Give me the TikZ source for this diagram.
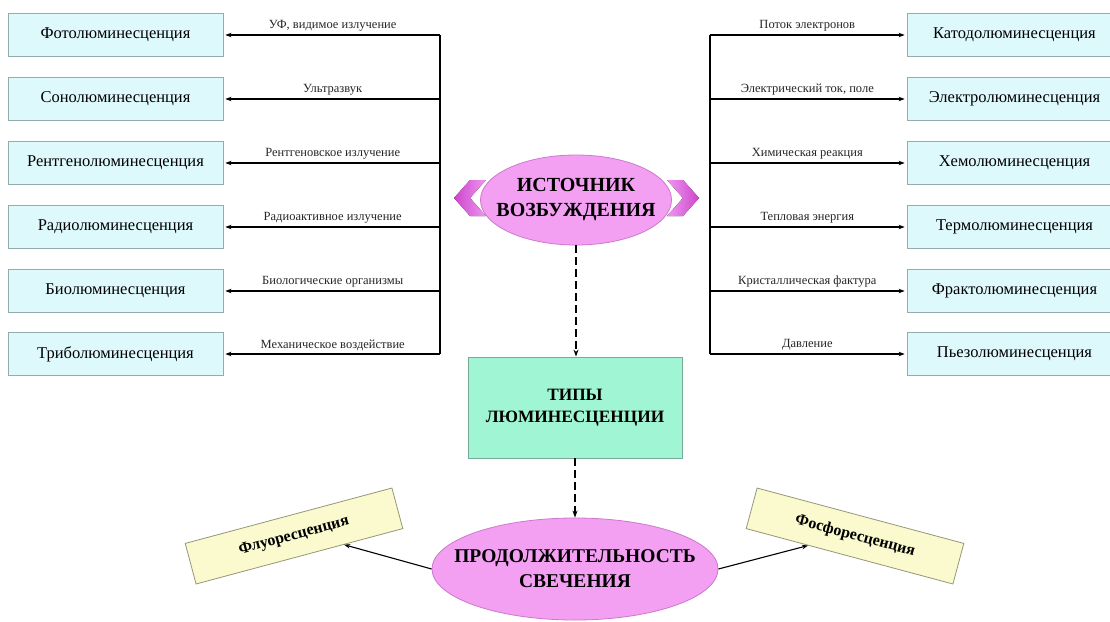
\documentclass[tikz,border=0pt]{standalone}
\usepackage{fontspec}
\setmainfont{Liberation Serif}
\usetikzlibrary{arrows.meta,shapes.geometric,calc}
\definecolor{cyanfill}{RGB}{222,249,252}
\definecolor{cyanline}{RGB}{150,172,172}
\definecolor{pinkfill}{RGB}{243,160,243}
\definecolor{pinkline}{RGB}{205,120,205}
\definecolor{mintfill}{RGB}{160,246,212}
\definecolor{mintline}{RGB}{120,170,150}
\definecolor{yelfill}{RGB}{250,250,206}
\definecolor{yelline}{RGB}{150,150,120}
\definecolor{chevdark}{RGB}{205,70,205}
\definecolor{chevlight}{RGB}{240,150,240}
\begin{document}
\begin{tikzpicture}[x=1pt,y=-1pt,
  lumbox/.style={draw=cyanline, fill=cyanfill, line width=0.8pt, minimum width=215pt, minimum height=43pt, inner sep=0pt, font=\fontsize{16.5}{18}\selectfont},
  srclabel/.style={font=\fontsize{12.5}{14}\selectfont, text=black!85, midway, above, inner sep=3pt},
  arr/.style={-{Stealth[length=6pt,width=4.5pt]}, line width=1.1pt},
  dasharr/.style={-{Stealth[length=7pt,width=5pt]}, line width=1.4pt, dash pattern=on 8pt off 4pt},
  bus/.style={line width=1.1pt},
  oval/.style={ellipse, draw=pinkline, fill=pinkfill, line width=0.8pt, inner sep=-12pt, align=center},
  tiltbox/.style={draw=yelline, fill=yelfill, line width=0.8pt, minimum width=214pt, minimum height=42pt, inner sep=0pt, font=\fontsize{16}{18}\selectfont\bfseries}
]
\useasboundingbox (0,0) rectangle (1110,621);
\clip (0,0) rectangle (1110,621);
\fill[white] (0,0) rectangle (1110,621);

% left boxes
\node[lumbox] (l1) at (115.5,35) {Фотолюминесценция};
\node[lumbox] (l2) at (115.5,99) {Сонолюминесценция};
\node[lumbox] (l3) at (115.5,163) {Рентгенолюминесценция};
\node[lumbox] (l4) at (115.5,227) {Радиолюминесценция};
\node[lumbox] (l5) at (115.5,291) {Биолюминесценция};
\node[lumbox] (l6) at (115.5,354) {Триболюминесценция};

% right boxes
\node[lumbox] (r1) at (1014.5,35) {Катодолюминесценция};
\node[lumbox] (r2) at (1014.5,99) {Электролюминесценция};
\node[lumbox] (r3) at (1014.5,163) {Хемолюминесценция};
\node[lumbox] (r4) at (1014.5,227) {Термолюминесценция};
\node[lumbox] (r5) at (1014.5,291) {Фрактолюминесценция};
\node[lumbox] (r6) at (1014.5,354) {Пьезолюминесценция};

% bus coordinates
\coordinate (bl1) at (440,35);
\coordinate (bl2) at (440,99);
\coordinate (bl3) at (440,163);
\coordinate (bl4) at (440,227);
\coordinate (bl5) at (440,291);
\coordinate (bl6) at (440,354);
\coordinate (br1) at (710,35);
\coordinate (br2) at (710,99);
\coordinate (br3) at (710,163);
\coordinate (br4) at (710,227);
\coordinate (br5) at (710,291);
\coordinate (br6) at (710,354);

\draw[bus] (bl1) -- (bl6);
\draw[bus] (br1) -- (br6);

\draw[arr] (bl1) -- node[srclabel] {УФ, видимое излучение} ($(l1.east)+(2,0)$);
\draw[arr] (bl2) -- node[srclabel] {Ультразвук} ($(l2.east)+(2,0)$);
\draw[arr] (bl3) -- node[srclabel] {Рентгеновское излучение} ($(l3.east)+(2,0)$);
\draw[arr] (bl4) -- node[srclabel] {Радиоактивное излучение} ($(l4.east)+(2,0)$);
\draw[arr] (bl5) -- node[srclabel] {Биологические организмы} ($(l5.east)+(2,0)$);
\draw[arr] (bl6) -- node[srclabel] {Механическое воздействие} ($(l6.east)+(2,0)$);

\draw[arr] (br1) -- node[srclabel] {Поток электронов} ($(r1.west)+(-2,0)$);
\draw[arr] (br2) -- node[srclabel] {Электрический ток, поле} ($(r2.west)+(-2,0)$);
\draw[arr] (br3) -- node[srclabel] {Химическая реакция} ($(r3.west)+(-2,0)$);
\draw[arr] (br4) -- node[srclabel] {Тепловая энергия} ($(r4.west)+(-2,0)$);
\draw[arr] (br5) -- node[srclabel] {Кристаллическая фактура} ($(r5.west)+(-2,0)$);
\draw[arr] (br6) -- node[srclabel] {Давление} ($(r6.west)+(-2,0)$);

% chevrons
\fill[left color=chevdark, right color=chevlight] (470,180) -- (486,180) -- (470,198) -- (486,216) -- (470,216) -- (454,198) -- cycle;
\fill[left color=chevlight, right color=chevdark] (683,180) -- (667,180) -- (683,198) -- (667,216) -- (683,216) -- (699,198) -- cycle;

% central nodes
\node[oval, minimum width=191pt, minimum height=90pt, font=\fontsize{20}{25}\selectfont\bfseries] (src) at (576,200) {ИСТОЧНИК\\ВОЗБУЖДЕНИЯ};
\node[draw=mintline, fill=mintfill, line width=0.8pt, minimum width=214pt, minimum height=101pt, inner sep=0pt, align=center, font=\fontsize{17.3}{22}\selectfont\bfseries] (types) at (575,407.5) {ТИПЫ\\ЛЮМИНЕСЦЕНЦИИ};
\node[oval, inner sep=-22pt, minimum width=286pt, minimum height=102pt, font=\fontsize{19.5}{25}\selectfont\bfseries] (dur) at (575,569) {ПРОДОЛЖИТЕЛЬНОСТЬ\\СВЕЧЕНИЯ};

\draw[dasharr] (src.south) -- (src.south |- types.north);
\draw[dasharr] (types.south) -- (dur.north);

% duration boxes
\node[tiltbox, rotate=15] (flu) at (294,536) {Флуоресценция};
\node[tiltbox, rotate=-15] (phos) at (855,536) {Фосфоресценция};

\draw[arr] (dur.west) -- ($(flu.south)!0.43!(flu.south east)$);
\draw[arr] (dur.east) -- ($(phos.south)!0.4!(phos.south west)$);
\end{tikzpicture}
\end{document}
